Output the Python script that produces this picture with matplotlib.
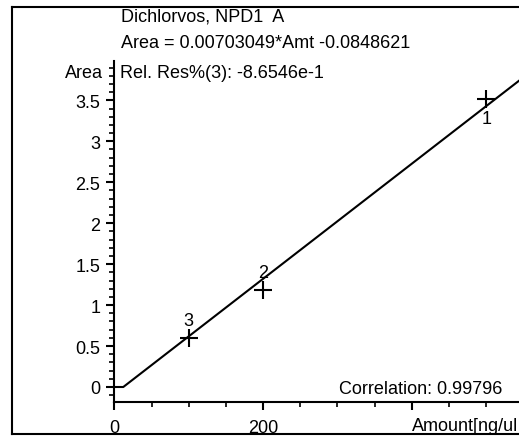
import matplotlib
matplotlib.use("Agg")
import matplotlib.pyplot as plt
from matplotlib.lines import Line2D
from matplotlib.ticker import MultipleLocator
import numpy as np

plt.rcParams['font.family'] = ['Liberation Sans', 'DejaVu Sans']

# data
amounts = [500, 200, 100]
areas = [3.52, 1.18, 0.595]
point_labels = ["1", "2", "3"]
slope = 0.00703049
intercept = -0.0848621
title_text = "Dichlorvos, NPD1  A"
equation_text = "Area = 0.00703049*Amt -0.0848621"
resid_text = "Rel. Res%(3): -8.6546e-1"
corr_text = "Correlation: 0.99796"
x_label_text = "Amount[ng/ul"
x_ticks = [0, 200]
y_ticks = [0, 0.5, 1, 1.5, 2, 2.5, 3, 3.5]
y_tick_labels = ["0", "0.5", "1", "1.5", "2", "2.5", "3", "3.5"]

W, H = 519, 439
fig = plt.figure(figsize=(W / 100, H / 100), dpi=100)

def fx(px):
    return px / W

def fy(py):
    return 1 - py / H

ax_left, ax_right = 114.3, 519
ax_top, ax_bottom = 62, 403
ax = fig.add_axes([fx(ax_left), fy(ax_bottom), fx(ax_right - ax_left), (ax_bottom - ax_top) / H])
ax.patch.set_alpha(0)

xpx_per = 0.744
ypx_per = 81.9
xmax = (ax_right - ax_left) / xpx_per
y0px = 388
ymin = -(ax_bottom - y0px) / ypx_per
ymax = (y0px - ax_top) / ypx_per
ax.set_xlim(0, xmax)
ax.set_ylim(ymin, ymax)

for s in ['top', 'right']:
    ax.spines[s].set_visible(False)
ax.spines['left'].set_linewidth(1.5)
ax.spines['bottom'].set_linewidth(1.5)

ax.xaxis.set_minor_locator(MultipleLocator(50))
ax.set_xticks(x_ticks + [400])
ax.set_xticklabels([str(v) for v in x_ticks] + [""])
ax.set_yticks(y_ticks)
ax.set_yticklabels(y_tick_labels)
ax.yaxis.set_minor_locator(MultipleLocator(0.1))
ax.tick_params(axis='both', which='major', length=6, width=1.5, labelsize=13, direction='out')
ax.tick_params(axis='both', which='minor', length=3.5, width=1.2, direction='out')
ax.tick_params(axis='x', which='major', pad=6)
ax.tick_params(axis='y', which='major', pad=4)

# fit line clipped at zero
x0 = -intercept / slope
lx = [0, x0, xmax]
ly = [0, 0, slope * xmax + intercept]
ax.plot(lx, ly, color='black', lw=1.5, clip_on=True)

ax.plot(amounts, areas, linestyle='none', marker='+', markersize=13, mew=1.5, color='black')
for a, v, lab in zip(amounts, areas, point_labels):
    if lab == "1":
        ax.annotate(lab, (a, v), xytext=(0, -14), textcoords='offset points', ha='center', va='center', fontsize=13)
    else:
        ax.annotate(lab, (a, v), xytext=(0, 13), textcoords='offset points', ha='center', va='center', fontsize=13)

# texts
fig.text(fx(121), fy(17), title_text, ha='left', va='center', fontsize=13)
fig.text(fx(121), fy(43), equation_text, ha='left', va='center', fontsize=13)
fig.text(fx(120), fy(74), resid_text, ha='left', va='center', fontsize=13)
fig.text(fx(103), fy(74), "Area", ha='right', va='center', fontsize=13)
fig.text(fx(502), fy(390), corr_text, ha='right', va='center', fontsize=13)
fig.text(fx(412), fy(427), x_label_text, ha='left', va='center', fontsize=13)

# outer frame
fr = dict(color='black', lw=1.5, transform=fig.transFigure)
fig.add_artist(Line2D([fx(12), fx(12)], [fy(8), fy(435)], **fr))
fig.add_artist(Line2D([fx(12), 1.0], [fy(8), fy(8)], **fr))
fig.add_artist(Line2D([fx(12), 1.0], [fy(435), fy(435)], **fr))

fig.savefig("out.png", dpi=100)
